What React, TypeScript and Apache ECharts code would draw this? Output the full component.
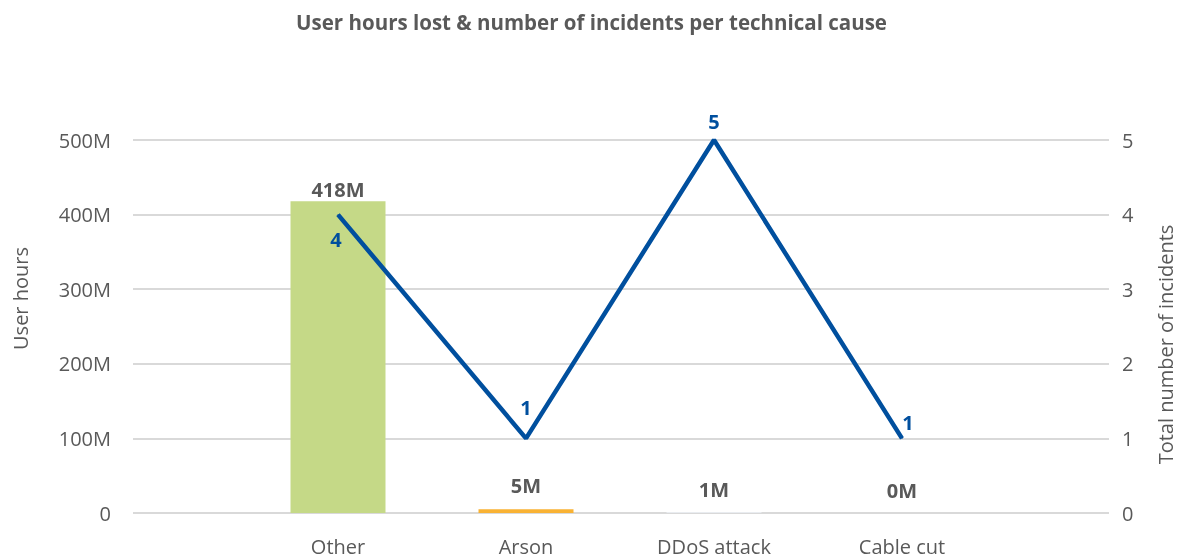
import React, { useEffect, useRef } from "react";
import * as echarts from "echarts";

const categories = ["", "Other", "Arson", "DDoS attack", "Cable cut", ""];
const userHoursM = [null, 418, 5, 1, 0, null];
const incidents = [null, 4, 1, 5, 1, null];
const barColors = ["#c5d987", "#c5d987", "#f9b233", "#eef2f7", "#eeeeee", "#c5d987"];
const lineLabelPos = ["top", "bottom", "top", "top", "top", "top"];
const lineLabelDist = [5, 14, 20, 8, 5, 5];
const lineLabelOffset = [[0, 0], [-2, 0], [0, 0], [0, 0], [6, 0], [0, 0]];
const barLabelDist = [0, 2, 14, 13, 13, 0];

const FONT = "'Open Sans', 'Noto Sans', sans-serif";
const GREY = "#595959";
const BLUE = "#004f9e";
const FS = 20;

export default function App() {
  const ref = useRef<HTMLDivElement>(null);
  useEffect(() => {
    if (!ref.current) return;
    const chart = echarts.init(ref.current, undefined, { renderer: "svg" });
    const top = 140;
    const bottom = 47;
    chart.setOption({
      animation: false,
      textStyle: { fontFamily: FONT },
      title: {
        text: "User hours lost & number of incidents per technical cause",
        left: "center",
        top: 6,
        textStyle: { fontFamily: FONT, fontSize: 20.5, fontWeight: "bold", color: GREY },
      },
      grid: [
        { left: 133, right: 73, top, bottom },
        { left: 150, right: 93, top, bottom },
      ],
      xAxis: [
        { type: "category", gridIndex: 0, data: ["a"], show: false },
        {
          type: "category",
          gridIndex: 1,
          data: categories,
          boundaryGap: false,
          axisLine: { show: false },
          axisTick: { show: false },
          axisLabel: { color: GREY, fontSize: FS, fontFamily: FONT, margin: 23, interval: 0 },
        },
      ],
      yAxis: [
        {
          type: "value",
          gridIndex: 0,
          position: "left",
          min: 0,
          max: 500,
          interval: 100,
          name: "User hours",
          nameLocation: "middle",
          nameGap: 103,
          nameRotate: 90,
          nameTextStyle: { color: GREY, fontSize: FS, fontFamily: FONT, padding: [0, 0, 0, 56] },
          axisLine: { show: false },
          axisTick: { show: false },
          axisLabel: {
            color: GREY,
            fontSize: FS,
            fontFamily: FONT,
            margin: 22,
            formatter: (v: number) => (v === 0 ? "0" : v + "M"),
          },
          splitLine: { lineStyle: { color: "#d9d9d9", width: 2 } },
        },
        {
          type: "value",
          gridIndex: 0,
          position: "right",
          min: 0,
          max: 5,
          interval: 1,
          name: "Total number of incidents",
          nameLocation: "middle",
          nameGap: 46,
          nameRotate: 90,
          nameTextStyle: { color: GREY, fontSize: FS, fontFamily: FONT, padding: [0, 36, 0, 0] },
          axisLine: { show: false },
          axisTick: { show: false },
          axisLabel: { color: GREY, fontSize: FS, fontFamily: FONT, margin: 13 },
          splitLine: { show: false },
        },
        { type: "value", gridIndex: 1, min: 0, max: 500, interval: 100, show: false, splitLine: { show: false } },
        { type: "value", gridIndex: 1, min: 0, max: 5, interval: 1, show: false, splitLine: { show: false } },
      ],
      series: [
        {
          type: "bar",
          xAxisIndex: 1,
          yAxisIndex: 2,
          barWidth: 95,
          data: userHoursM.map((v, i) => ({
            value: v,
            itemStyle: { color: barColors[i] },
            label: { distance: barLabelDist[i] },
          })),
          label: {
            show: true,
            position: "top",
            formatter: "{c}M",
            color: GREY,
            fontSize: FS,
            fontWeight: "bold",
            fontFamily: FONT,
          },
        },
        {
          type: "line",
          xAxisIndex: 1,
          yAxisIndex: 3,
          showSymbol: true,
          symbol: "circle",
          symbolSize: 1,
          lineStyle: { color: BLUE, width: 4.5 },
          itemStyle: { color: BLUE },
          data: incidents.map((v, i) => ({
            value: v,
            label: {
              position: lineLabelPos[i],
              distance: lineLabelDist[i],
              offset: lineLabelOffset[i],
            },
          })),
          label: {
            show: true,
            color: BLUE,
            fontSize: FS,
            fontWeight: "bold",
            fontFamily: FONT,
          },
        },
      ],
    });
    return () => chart.dispose();
  }, []);
  return (
    <div
      ref={ref}
      style={{ position: "fixed", left: 0, top: 0, width: 1183, height: 560 }}
    />
  );
}
